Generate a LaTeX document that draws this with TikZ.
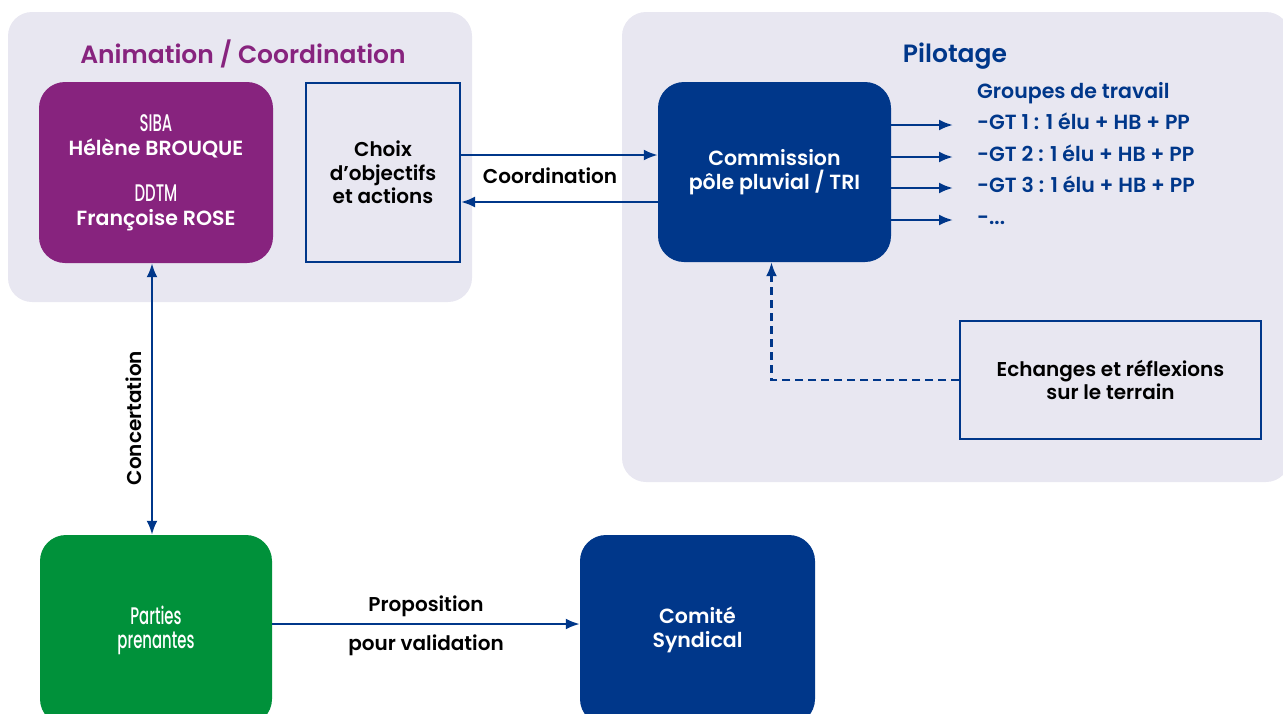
\documentclass[tikz,border=0pt]{standalone}
\usepackage{fontspec}
\setmainfont{Poppins}[UprightFont={* SemiBold},BoldFont={* Bold}]
\newfontfamily\condfont{Poppins Medium}
\usetikzlibrary{arrows.meta}
\usetikzlibrary{positioning,calc}

\definecolor{sibapurple}{HTML}{87237E}
\definecolor{pilotblue}{HTML}{00378A}
\definecolor{ppgreen}{HTML}{00913A}
\definecolor{panelgrey}{HTML}{E8E7F1}

\newcommand{\narrow}[1]{{\condfont\fontsize{24}{24}\selectfont\scalebox{0.62}[1]{#1}}}

\tikzset{
  panel/.style={fill=panelgrey, rounded corners=24pt},
  roundbox/.style={rounded corners=26pt, text=white, align=center, font=\fontsize{20.5}{24}\selectfont},
  framebox/.style={draw=pilotblue, line width=2pt, fill=panelgrey, align=center, font=\fontsize{20}{23.5}\selectfont},
  bigtitle/.style={font=\fontsize{25}{30}\selectfont},
  gtline/.style={anchor=west, inner sep=0pt, text=pilotblue, text height=14pt, text depth=5pt, font=\fontsize{20.5}{24}\selectfont},
  lbl/.style={font=\fontsize{20}{24}\selectfont},
  arr/.style={draw=pilotblue, line width=2.4pt, -{Latex[length=14pt,width=11pt]}},
  dblarr/.style={draw=pilotblue, line width=2.4pt, {Latex[length=14pt,width=11pt]}-{Latex[length=14pt,width=11pt]}},
}

\begin{document}
\begin{tikzpicture}[x=1pt,y=-1pt]
  \clip (0,0) rectangle (1283,713);
  % Background panels
  \fill[panel] (8,12) rectangle (472,302);
  \fill[panel] (622,12) rectangle (1290,482);

  % Animation / Coordination
  \node[bigtitle, text=sibapurple] (animtitle) at (243,54) {Animation / Coordination};
  \node[roundbox, fill=sibapurple, minimum width=234pt, minimum height=181pt] (siba) at (156,172.5)
    {\narrow{SIBA}\\Hélène BROUQUE\\[22pt]\narrow{DDTM}\\Françoise ROSE};
  \node[framebox, minimum width=154pt, minimum height=179pt] (choix) at (383,172.5)
    {Choix\\d’objectifs\\et actions};

  % Pilotage
  \node[bigtitle, text=pilotblue] (pilotitle) at (955,56) {Pilotage};
  \node[roundbox, fill=pilotblue, minimum width=233pt, minimum height=180pt] (commission) at (774.5,172)
    {Commission\\pôle pluvial / TRI};
  \node[gtline] (groupes) at (977,94) {Groupes de travail};
  \node[gtline] (gt1) at (977,125) {-GT 1 : 1 élu + HB + PP};
  \node[gtline] (gt2) at (977,157) {-GT 2 : 1 élu + HB + PP};
  \node[gtline] (gt3) at (977,188) {-GT 3 : 1 élu + HB + PP};
  \node[gtline] (gt4) at (977,220) {-...};
  \node[framebox, minimum width=301pt, minimum height=118pt] (echanges) at (1110.5,380)
    {Echanges et réflexions\\sur le terrain};

  % Bottom row
  \node[roundbox, fill=ppgreen, minimum width=232pt, minimum height=190pt] (parties) at (156,630)
    {\narrow{Parties}\\\narrow{prenantes}};
  \node[roundbox, fill=pilotblue, minimum width=235pt, minimum height=190pt] (comite) at (697.5,630)
    {Comité\\Syndical};

  % Coordination between the two panels
  \coordinate (coordtop) at (0,155);
  \coordinate (coordbot) at (0,202);
  \draw[arr] (choix.east |- coordtop) -- (commission.west |- coordtop);
  \draw[arr] (commission.west |- coordbot) -- (choix.east |- coordbot);
  \node[lbl] (coordlbl) at (550,176) {Coordination};

  % Working groups
  \foreach \g in {gt1,gt2,gt3,gt4}
    \draw[arr] (commission.east |- \g.west) -- ([xshift=-24pt]\g.west);

  % Field feedback (dashed)
  \draw[arr, dash pattern=on 8pt off 5pt] (echanges.west) -| ([xshift=-3pt]commission.south);

  % Concertation
  \draw[dblarr] ([xshift=-4pt]parties.north) -- node[lbl, pos=0.43, above=6pt, sloped] {Concertation}
    ([xshift=-4pt]siba.south);

  % Proposition pour validation
  \coordinate (propy) at (0,624);
  \draw[arr] (parties.east |- propy) -- node[lbl, midway, above=3pt] {Proposition}
    node[lbl, midway, below=6pt] {pour validation} (comite.west |- propy);
\end{tikzpicture}
\end{document}
